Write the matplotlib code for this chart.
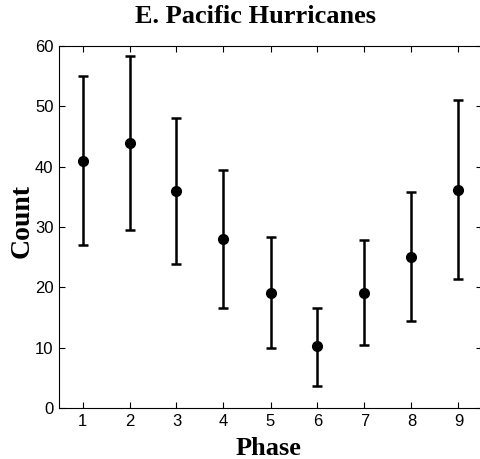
import matplotlib
matplotlib.use("Agg")
import matplotlib.pyplot as plt

# hurricane counts per phase with upper / lower bounds
phase = [1, 2, 3, 4, 5, 6, 7, 8, 9]
count = [41, 44, 36, 28, 19.1, 10.2, 19.1, 25.1, 36.1]
upper = [55, 58.4, 48, 39.5, 28.3, 16.6, 27.8, 35.8, 51]
lower = [27, 29.5, 23.8, 16.5, 9.9, 3.7, 10.4, 14.4, 21.3]

err_lo = [c - l for c, l in zip(count, lower)]
err_hi = [u - c for c, u in zip(count, upper)]

serif = ["Liberation Serif", "DejaVu Serif"]
sans = ["Liberation Sans", "DejaVu Sans"]

fig = plt.figure(figsize=(4.81, 4.59), dpi=100)
ax = fig.add_axes([59 / 481, 1 - 408 / 459, 423 / 481, 362 / 459])

ax.errorbar(phase, count, yerr=[err_lo, err_hi], fmt="o", color="black",
            markersize=7, elinewidth=1.8, capsize=3.5, capthick=1.8)

ax.set_xlim(0.5, 9.5)
ax.set_ylim(0, 60)
ax.set_xticks(phase)
ax.set_yticks(range(0, 61, 10))
ax.tick_params(direction="in", top=True, right=True, length=4, width=0.8,
               labelsize=12)
ax.tick_params(axis="x", pad=4)
ax.tick_params(axis="y", pad=4)
for lab in ax.get_xticklabels() + ax.get_yticklabels():
    lab.set_family(sans)
for sp in ax.spines.values():
    sp.set_linewidth(0.8)

fig.text(256 / 481, 1 - 23 / 459, "E. Pacific Hurricanes", family=serif,
         weight="bold", fontsize=19, ha="center", va="baseline")
fig.text(269 / 481, 1 - 455 / 459, "Phase", family=serif, weight="bold",
         fontsize=19, ha="center", va="baseline")
fig.text(29 / 481, 1 - 221 / 459, "Count", family=serif, weight="bold",
         fontsize=20, ha="center", va="baseline", rotation=90,
         rotation_mode="anchor")

fig.savefig("out.png", dpi=100)
